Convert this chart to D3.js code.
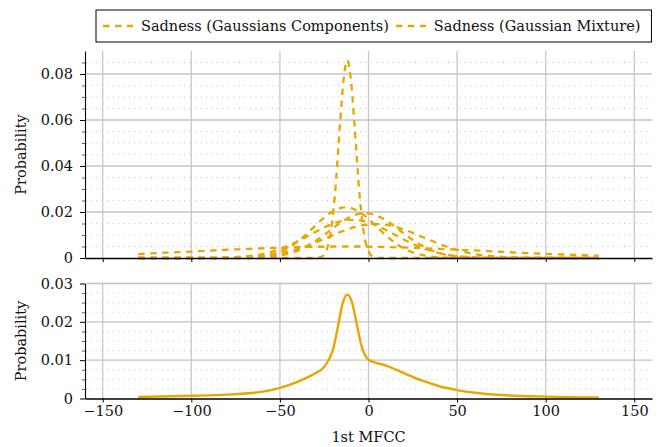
<!DOCTYPE html>
<html>
<head>
<meta charset="utf-8">
<script src="https://cdn.jsdelivr.net/npm/d3@7"></script>
<style>
  html, body { margin: 0; padding: 0; background: #fff; }
  svg { display: block; font-family: 'DejaVu Serif', serif; }
</style>
</head>
<body>
<div id="chart"></div>
<script>
const xGrid = [-130, -115, -100, -85, -70, -60, -50, -42, -35, -30, -26, -22, -19, -16, -14, -12, -10, -8, -5, -2, 0, 3, 7, 12, 18, 25, 32, 40, 50, 60, 70, 85, 100, 115, 130]

// gaussian components (probability at each xGrid position)
const compNarrow = [0, 0, 0, 0, 0, 0, 0, 0, 0, 0, 0.0008, 0.0081, 0.027, 0.059, 0.078, 0.086, 0.078, 0.059, 0.027, 0.0081, 0.0029, 0.0004, 0, 0, 0, 0, 0, 0, 0, 0, 0, 0, 0, 0, 0]
const compBroad = [0, 0, 0, 0, 0.0002, 0.0007, 0.0027, 0.0060, 0.0104, 0.0141, 0.0169, 0.0194, 0.0208, 0.0217, 0.0220, 0.0220, 0.0217, 0.0212, 0.0199, 0.0183, 0.0169, 0.0148, 0.0119, 0.0084, 0.0050, 0.0024, 0.0010, 0.0003, 0.0001, 0, 0, 0, 0, 0, 0]
const compCentre = [0, 0, 0, 0, 0, 0.0003, 0.0011, 0.0026, 0.0050, 0.0073, 0.0095, 0.0118, 0.0136, 0.0153, 0.0163, 0.0172, 0.0180, 0.0186, 0.0193, 0.0195, 0.0194, 0.0189, 0.0176, 0.0153, 0.0118, 0.0078, 0.0046, 0.0021, 0.0007, 0.0002, 0, 0, 0, 0, 0]
const compWide = [0, 0, 0, 0.0001, 0.0007, 0.0017, 0.0039, 0.0065, 0.0092, 0.0113, 0.0129, 0.0143, 0.0152, 0.0159, 0.0162, 0.0165, 0.0166, 0.0166, 0.0164, 0.0159, 0.0155, 0.0146, 0.0133, 0.0113, 0.0088, 0.0061, 0.0039, 0.0021, 0.0008, 0.0003, 0.0001, 0, 0, 0, 0]
const compRight = [0, 0, 0, 0.0001, 0.0003, 0.0009, 0.0020, 0.0035, 0.0052, 0.0067, 0.0080, 0.0093, 0.0103, 0.0113, 0.0118, 0.0124, 0.0129, 0.0134, 0.0140, 0.0144, 0.0146, 0.0148, 0.0147, 0.0142, 0.0129, 0.0109, 0.0086, 0.0061, 0.0035, 0.0017, 0.0008, 0.0002, 0, 0, 0]
const compFlat = [0.0017, 0.0023, 0.0028, 0.0034, 0.0039, 0.0042, 0.0045, 0.0047, 0.0048, 0.0049, 0.0049, 0.0050, 0.0050, 0.0050, 0.0050, 0.0050, 0.0050, 0.0050, 0.0050, 0.0050, 0.0049, 0.0049, 0.0048, 0.0047, 0.0046, 0.0044, 0.0042, 0.0040, 0.0036, 0.0033, 0.0029, 0.0023, 0.0018, 0.0014, 0.0010]
const components = [compNarrow, compBroad, compCentre, compWide, compRight, compFlat]

// gaussian mixture (bottom panel)
const mixX = [-130, -100, -80, -65, -55, -45, -35, -30, -25, -22, -20, -17, -14.5, -12, -9.5, -7, -4, -1, 0, 10, 20, 30, 40, 50, 60, 75, 100, 130]
const mixP = [0.0004, 0.0007, 0.0010, 0.0015, 0.0022, 0.0035, 0.0054, 0.0066, 0.0082, 0.0105, 0.0128, 0.0194, 0.0250, 0.0271, 0.0254, 0.0203, 0.0138, 0.0106, 0.0101, 0.0086, 0.0066, 0.0047, 0.0032, 0.0022, 0.0015, 0.0009, 0.0005, 0.0003]

const xTicks = [-150, -100, -50, 0, 50, 100, 150]
const topTicks = [0, 0.02, 0.04, 0.06, 0.08]
const bottomTicks = [0, 0.01, 0.02, 0.03]
const legendLabels = ['Sadness (Gaussians Components)', 'Sadness (Gaussian Mixture)']

const W = 665
const H = 447
const color = '#e6a800'
const fontSize = 14.5

const svg = d3.select('#chart').append('svg').attr('width', W).attr('height', H)

const x = d3.scaleLinear().domain([-160, 160]).range([85, 652])
const yTop = d3.scaleLinear().domain([0, 0.09]).range([258, 51])
const yBottom = d3.scaleLinear().domain([0, 0.03]).range([398.5, 283.5])

const topMinor = d3.range(1, 18).filter(i => i % 4).map(i => i * 0.005)
const bottomMinor = d3.range(1, 12).filter(i => i % 4).map(i => i * 0.0025)

const yFormat = d => d === 0 ? '0' : d3.format('.2f')(d)

function drawPanel (y, major, minor, showXLabels) {
  const [yb, yt] = y.range()
  const g = svg.append('g')

  g.selectAll('.minor-grid')
    .data(minor)
    .enter()
    .append('line')
    .attr('x1', x.range()[0]).attr('x2', x.range()[1])
    .attr('y1', d => y(d)).attr('y2', d => y(d))
    .attr('stroke', '#bdbdbd')
    .attr('stroke-width', 0.9)
    .attr('stroke-dasharray', '1,4.5')

  g.selectAll('.vgrid')
    .data(xTicks)
    .enter()
    .append('line')
    .attr('x1', d => x(d)).attr('x2', d => x(d))
    .attr('y1', yt).attr('y2', yb)
    .attr('stroke', '#c8c8c8')
    .attr('stroke-width', 1.3)

  g.selectAll('.hgrid')
    .data(major.filter(d => d > 0))
    .enter()
    .append('line')
    .attr('x1', x.range()[0]).attr('x2', x.range()[1])
    .attr('y1', d => y(d)).attr('y2', d => y(d))
    .attr('stroke', '#c4c4c4')
    .attr('stroke-width', 1.3)

  const curves = g.append('g')

  const yAxis = g.append('g')
    .attr('transform', `translate(${x.range()[0]},0)`)
    .call(d3.axisLeft(y).tickValues(major).tickSize(5).tickSizeOuter(0).tickPadding(7).tickFormat(yFormat))
  yAxis.select('.domain').attr('stroke', '#000').attr('stroke-width', 1.1)

  g.append('g')
    .attr('transform', `translate(${x.range()[0] + 1.5},0)`)
    .call(d3.axisLeft(y).tickValues(minor).tickSize(4.5).tickFormat(''))
    .call(a => a.select('.domain').remove())
    .selectAll('line').attr('stroke', '#333').attr('stroke-width', 0.8)

  const xAxis = g.append('g')
    .attr('transform', `translate(0,${yb})`)
    .call(d3.axisBottom(x).tickValues(xTicks).tickSize(4).tickSizeOuter(0).tickPadding(3)
      .tickFormat(showXLabels ? d3.format('d') : ''))
  xAxis.select('.domain').attr('stroke', '#000').attr('stroke-width', 1.3)

  g.selectAll('.tick text').attr('font-family', 'DejaVu Serif').attr('font-size', fontSize).attr('fill', '#111')

  g.append('text')
    .attr('transform', `translate(26,${(yb + yt) / 2}) rotate(-90)`)
    .attr('text-anchor', 'middle')
    .attr('font-size', fontSize)
    .attr('fill', '#111')
    .text('Probability')

  return curves
}

const topCurves = drawPanel(yTop, topTicks, topMinor, false)
const bottomCurves = drawPanel(yBottom, bottomTicks, bottomMinor, true)

const lineTop = d3.line().x(d => x(d[0])).y(d => yTop(d[1])).curve(d3.curveMonotoneX)
const lineBottom = d3.line().x(d => x(d[0])).y(d => yBottom(d[1])).curve(d3.curveMonotoneX)

topCurves.selectAll('.component')
  .data(components)
  .enter()
  .append('path')
  .attr('class', 'component')
  .attr('d', vals => lineTop(xGrid.map((v, i) => [v, vals[i]])))
  .attr('fill', 'none')
  .attr('stroke', color)
  .attr('stroke-width', 2.3)
  .attr('stroke-dasharray', '6.5,5.5')

bottomCurves.append('path')
  .attr('d', lineBottom(mixX.map((v, i) => [v, mixP[i]])))
  .attr('fill', 'none')
  .attr('stroke', color)
  .attr('stroke-width', 2.4)

svg.append('text')
  .attr('x', x(0))
  .attr('y', 442)
  .attr('text-anchor', 'middle')
  .attr('font-size', fontSize)
  .attr('fill', '#111')
  .text('1st MFCC')

// legend
const legend = svg.append('g')
const box = legend.append('rect')
let lx = 103
legendLabels.forEach(label => {
  legend.append('line')
    .attr('x1', lx).attr('x2', lx + 30)
    .attr('y1', 26).attr('y2', 26)
    .attr('stroke', color)
    .attr('stroke-width', 2.3)
    .attr('stroke-dasharray', '6.5,5.5')
  const t = legend.append('text')
    .attr('x', lx + 38)
    .attr('y', 31)
    .attr('font-size', fontSize)
    .attr('fill', '#111')
    .text(label)
  lx += 38 + t.node().getComputedTextLength() + 7
})
box.attr('x', 96).attr('y', 10)
  .attr('width', lx - 7 + 11 - 96).attr('height', 32)
  .attr('fill', '#fff')
  .attr('stroke', '#000')
  .attr('stroke-width', 1)
</script>
</body>
</html>
